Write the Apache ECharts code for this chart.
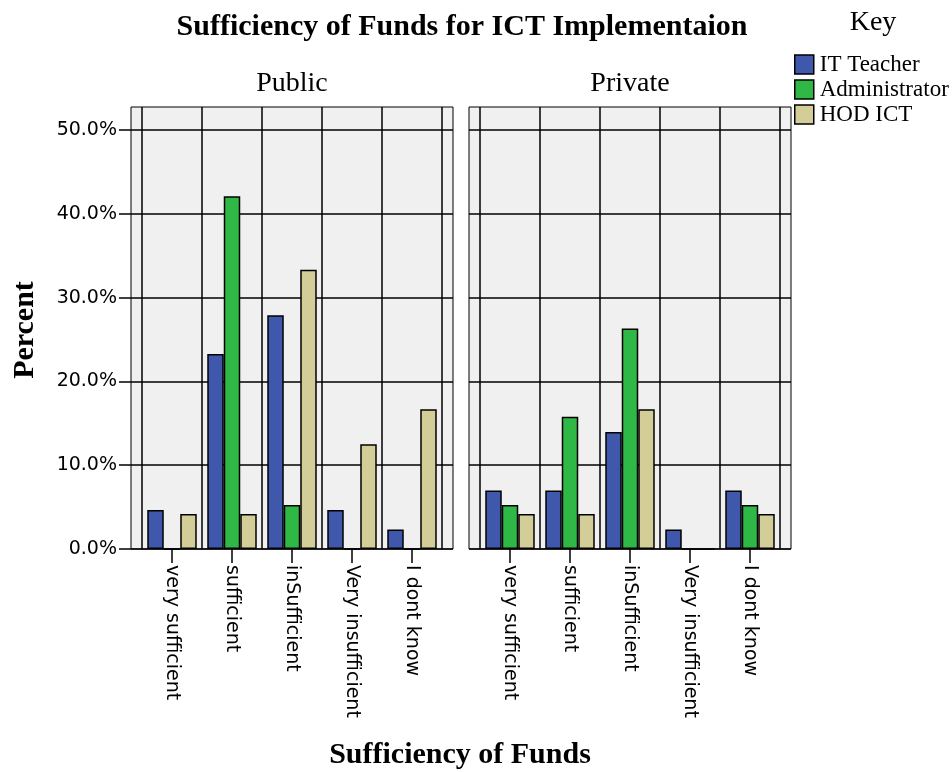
<!DOCTYPE html>
<html>
<head>
<meta charset="utf-8">
<script src="https://cdn.jsdelivr.net/npm/echarts@6/dist/echarts.min.js"></script>
<style>
  html, body { margin: 0; padding: 0; background: #fff; }
  #chart { width: 952px; height: 772px; }
</style>
</head>
<body>
<div id="chart"></div>
<script>
// categories of the x axis (same in both panels)
var categories = ['very sufficient', 'sufficient', 'inSufficient', 'Very insufficient', 'I dont know']
var roles = ['IT Teacher', 'Administrator', 'HOD ICT']

// percent values, Public panel
var publicIT = [4.65, 23.26, 27.91, 4.65, 2.33]
var publicAdmin = [0, 42.11, 5.26, 0, 0]
var publicHOD = [4.17, 4.17, 33.33, 12.5, 16.67]

// percent values, Private panel
var privateIT = [6.98, 6.98, 13.95, 2.33, 6.98]
var privateAdmin = [5.26, 15.79, 26.32, 0, 5.26]
var privateHOD = [4.17, 4.17, 16.67, 0, 4.17]

var yTicks = [0, 10, 20, 30, 40, 50]

var colors = ['#3f58ab', '#30b846', '#d3ce98']
var serif = '"Liberation Serif", "Times New Roman", serif'
var sans = '"DejaVu Sans", Arial, sans-serif'
var yMax = 52.75

var chart = echarts.init(document.getElementById('chart'), null, { renderer: 'canvas' })

// panel boxes: bg grid (full panel) + data grid (category area)
var panels = [
  { left: 131, dataLeft: 142, name: 'Public' },
  { left: 469, dataLeft: 480, name: 'Private' }
]
var panelTop = 107
var panelHeight = 442

var grids = []
var xAxes = []
var yAxes = []
panels.forEach(function (p, i) {
  grids.push({ left: p.left, top: panelTop, width: 322, height: panelHeight, show: true,
    backgroundColor: '#f0f0f0', borderColor: '#000', borderWidth: 1 })
  grids.push({ left: p.dataLeft, top: panelTop, width: 300, height: panelHeight })

  xAxes.push({ gridIndex: i * 2, type: 'value', show: false, min: 0, max: 1 })
  xAxes.push({
    gridIndex: i * 2 + 1,
    type: 'category',
    data: categories,
    axisLine: { show: false },
    axisTick: { show: true, alignWithLabel: true, length: 14, lineStyle: { color: '#000', width: 1.5 } },
    axisLabel: { rotate: -90, margin: 16, color: '#000', fontFamily: sans, fontSize: 19 },
    splitLine: { show: true, lineStyle: { color: '#000', width: 1.5 } }
  })

  yAxes.push({
    gridIndex: i * 2,
    type: 'value',
    min: 0,
    max: yMax,
    interval: 10,
    axisLine: { show: false },
    axisTick: { show: i === 0, length: 12, customValues: yTicks, lineStyle: { color: '#000', width: 1.5 } },
    axisLabel: {
      show: i === 0,
      customValues: yTicks,
      margin: 14,
      color: '#000',
      fontFamily: sans,
      fontSize: 19,
      formatter: function (v) { return v.toFixed(1) + '%' }
    },
    splitLine: { show: true, lineStyle: { color: '#000', width: 1.5 } }
  })
  yAxes.push({ gridIndex: i * 2 + 1, type: 'value', min: 0, max: yMax, show: false })
})

var panelData = [
  [publicIT, publicAdmin, publicHOD],
  [privateIT, privateAdmin, privateHOD]
]
var series = []
panelData.forEach(function (sets, i) {
  sets.forEach(function (vals, k) {
    series.push({
      name: roles[k],
      type: 'bar',
      xAxisIndex: i * 2 + 1,
      yAxisIndex: i * 2 + 1,
      barWidth: 16.5,
      barGap: '0%',
      itemStyle: { color: colors[k], borderColor: '#000', borderWidth: 1.5 },
      data: vals
    })
  })
})

function txt(x, y, text, font, rot) {
  return {
    type: 'text',
    x: x,
    y: y,
    rotation: rot || 0,
    style: { text: text, font: font, fill: '#000', align: 'center', verticalAlign: 'middle' }
  }
}

chart.setOption({
  animation: false,
  color: colors,
  grid: grids,
  xAxis: xAxes,
  yAxis: yAxes,
  legend: {
    orient: 'vertical',
    left: 794,
    top: 53,
    padding: 0,
    itemWidth: 19,
    itemHeight: 19,
    itemGap: 2,
    icon: 'rect',
    itemStyle: { borderColor: '#000', borderWidth: 1.5 },
    textStyle: { fontFamily: serif, fontSize: 23, lineHeight: 22, color: '#000', padding: [0, 0, 0, 1] },
    data: roles
  },
  graphic: [
    txt(462, 27, 'Sufficiency of Funds for ICT Implementaion', 'bold 30px ' + serif),
    txt(292, 84, 'Public', '28px ' + serif),
    txt(630, 84, 'Private', '28px ' + serif),
    txt(873, 23, 'Key', '28px ' + serif),
    txt(25, 330, 'Percent', 'bold 30px ' + serif, Math.PI / 2),
    txt(460, 755, 'Sufficiency of Funds', 'bold 30px ' + serif)
  ],
  series: series
})
</script>
</body>
</html>
